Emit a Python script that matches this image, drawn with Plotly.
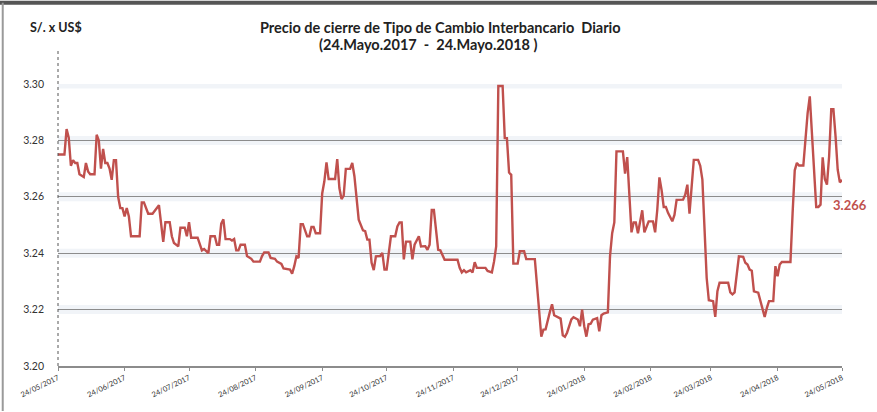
import plotly.graph_objects as go

fechas = [
    "2017-05-24", "2017-05-27", "2017-05-28", "2017-05-29", "2017-05-30", "2017-05-31",
    "2017-06-01", "2017-06-02", "2017-06-03", "2017-06-05", "2017-06-06", "2017-06-07",
    "2017-06-08", "2017-06-10", "2017-06-11", "2017-06-12", "2017-06-13", "2017-06-14",
    "2017-06-15", "2017-06-16", "2017-06-17", "2017-06-18", "2017-06-19", "2017-06-20",
    "2017-06-21", "2017-06-22", "2017-06-23", "2017-06-24", "2017-06-25", "2017-06-26",
    "2017-06-27", "2017-07-01", "2017-07-02", "2017-07-03", "2017-07-05", "2017-07-07",
    "2017-07-10", "2017-07-12", "2017-07-13", "2017-07-15", "2017-07-16", "2017-07-17",
    "2017-07-19", "2017-07-20", "2017-07-22", "2017-07-23", "2017-07-24", "2017-07-25",
    "2017-07-28", "2017-07-30", "2017-07-31", "2017-08-02", "2017-08-03", "2017-08-05",
    "2017-08-06", "2017-08-07", "2017-08-08", "2017-08-09", "2017-08-10", "2017-08-12",
    "2017-08-13", "2017-08-14", "2017-08-15", "2017-08-16", "2017-08-17", "2017-08-19",
    "2017-08-20", "2017-08-22", "2017-08-23", "2017-08-26", "2017-08-27", "2017-08-28",
    "2017-08-30", "2017-08-31", "2017-09-02", "2017-09-03", "2017-09-05", "2017-09-06",
    "2017-09-09", "2017-09-10", "2017-09-11", "2017-09-12", "2017-09-13", "2017-09-14",
    "2017-09-15", "2017-09-17", "2017-09-18", "2017-09-19", "2017-09-20", "2017-09-21",
    "2017-09-23", "2017-09-24", "2017-09-25", "2017-09-26", "2017-09-27", "2017-09-30",
    "2017-10-01", "2017-10-02", "2017-10-03", "2017-10-04", "2017-10-05", "2017-10-07",
    "2017-10-08", "2017-10-09", "2017-10-10", "2017-10-11", "2017-10-13", "2017-10-14",
    "2017-10-15", "2017-10-16", "2017-10-17", "2017-10-18", "2017-10-19", "2017-10-21",
    "2017-10-22", "2017-10-23", "2017-10-24", "2017-10-26", "2017-10-28", "2017-10-29",
    "2017-10-30", "2017-10-31", "2017-11-01", "2017-11-02", "2017-11-04", "2017-11-05",
    "2017-11-06", "2017-11-08", "2017-11-09", "2017-11-11", "2017-11-12", "2017-11-13",
    "2017-11-14", "2017-11-15", "2017-11-17", "2017-11-18", "2017-11-20", "2017-11-26",
    "2017-11-27", "2017-11-28", "2017-11-29", "2017-11-30", "2017-12-02", "2017-12-03",
    "2017-12-04", "2017-12-05", "2017-12-09", "2017-12-10", "2017-12-12", "2017-12-13",
    "2017-12-14", "2017-12-15", "2017-12-17", "2017-12-18", "2017-12-19", "2017-12-20",
    "2017-12-21", "2017-12-22", "2017-12-24", "2017-12-25", "2017-12-27", "2017-12-28",
    "2018-01-01", "2018-01-03", "2018-01-04", "2018-01-05", "2018-01-06", "2018-01-08",
    "2018-01-09", "2018-01-10", "2018-01-13", "2018-01-14", "2018-01-15", "2018-01-16",
    "2018-01-18", "2018-01-19", "2018-01-21", "2018-01-22", "2018-01-23", "2018-01-24",
    "2018-01-25", "2018-01-26", "2018-01-27", "2018-01-28", "2018-01-30", "2018-01-31",
    "2018-02-01", "2018-02-02", "2018-02-04", "2018-02-05", "2018-02-06", "2018-02-07",
    "2018-02-08", "2018-02-11", "2018-02-12", "2018-02-13", "2018-02-14", "2018-02-15",
    "2018-02-16", "2018-02-17", "2018-02-18", "2018-02-19", "2018-02-20", "2018-02-21",
    "2018-02-23", "2018-02-25", "2018-02-26", "2018-02-27", "2018-02-28", "2018-03-01",
    "2018-03-02", "2018-03-03", "2018-03-04", "2018-03-06", "2018-03-07", "2018-03-08",
    "2018-03-11", "2018-03-12", "2018-03-13", "2018-03-14", "2018-03-15", "2018-03-16",
    "2018-03-18", "2018-03-19", "2018-03-20", "2018-03-21", "2018-03-22", "2018-03-23",
    "2018-03-25", "2018-03-26", "2018-03-27", "2018-03-28", "2018-04-01", "2018-04-02",
    "2018-04-03", "2018-04-04", "2018-04-06", "2018-04-08", "2018-04-09", "2018-04-10",
    "2018-04-11", "2018-04-12", "2018-04-13", "2018-04-15", "2018-04-16", "2018-04-18",
    "2018-04-19", "2018-04-20", "2018-04-22", "2018-04-23", "2018-04-24", "2018-04-25",
    "2018-04-26", "2018-04-30", "2018-05-01", "2018-05-02", "2018-05-03", "2018-05-04",
    "2018-05-06", "2018-05-07", "2018-05-08", "2018-05-09", "2018-05-10", "2018-05-11",
    "2018-05-12", "2018-05-13", "2018-05-14", "2018-05-15", "2018-05-16", "2018-05-17",
    "2018-05-18", "2018-05-19", "2018-05-20", "2018-05-21", "2018-05-22", "2018-05-23",
    "2018-05-24",
]

tipo_cambio = [
    3.275, 3.275, 3.284, 3.281, 3.271, 3.273,
    3.272, 3.272, 3.268, 3.267, 3.272, 3.269,
    3.268, 3.268, 3.282, 3.280, 3.270, 3.277,
    3.272, 3.272, 3.270, 3.266, 3.273, 3.273,
    3.260, 3.256, 3.256, 3.253, 3.256, 3.253,
    3.246, 3.246, 3.258, 3.258, 3.254, 3.254,
    3.257, 3.244, 3.251, 3.251, 3.246, 3.2436,
    3.2424, 3.249, 3.249, 3.246, 3.251, 3.2455,
    3.2455, 3.241, 3.2415, 3.240, 3.246, 3.246,
    3.243, 3.243, 3.2505, 3.252, 3.245, 3.245,
    3.2445, 3.245, 3.241, 3.241, 3.243, 3.243,
    3.239, 3.238, 3.237, 3.237, 3.239, 3.2403,
    3.2403, 3.2383, 3.238, 3.237, 3.2362, 3.2346,
    3.2342, 3.2327, 3.2354, 3.2389, 3.2383, 3.2503,
    3.2503, 3.246, 3.246, 3.2493, 3.2493, 3.2471,
    3.2471, 3.2612, 3.2655, 3.2722, 3.2663, 3.2663,
    3.2734, 3.2631, 3.2592, 3.2604, 3.2699, 3.2699,
    3.272, 3.2673, 3.2596, 3.2519, 3.2481, 3.2478,
    3.2448, 3.2448, 3.2366, 3.234, 3.2389, 3.239,
    3.2401, 3.2342, 3.2342, 3.246, 3.246, 3.2495,
    3.2509, 3.2509, 3.2378, 3.2441, 3.2441, 3.2378,
    3.243, 3.246, 3.2424, 3.2425, 3.2412, 3.243,
    3.2553, 3.2553, 3.2412, 3.241, 3.2377, 3.2377,
    3.2348, 3.2332, 3.234, 3.2332, 3.234, 3.2332,
    3.2368, 3.2348, 3.2348, 3.2337, 3.2332, 3.237,
    3.2424, 3.2993, 3.2993, 3.2808, 3.2808, 3.2686,
    3.2678, 3.2363, 3.2363, 3.2407, 3.2407, 3.2379,
    3.2379, 3.2188, 3.2104, 3.2129, 3.213, 3.2192,
    3.2219, 3.218, 3.2168, 3.2109, 3.2104, 3.2118,
    3.2165, 3.2173, 3.2165, 3.2141, 3.220, 3.2141,
    3.2104, 3.2148, 3.215, 3.2164, 3.217, 3.2123,
    3.218, 3.2186, 3.219, 3.2389, 3.2471, 3.2509,
    3.2761, 3.2761, 3.2682, 3.2741, 3.2626, 3.2474,
    3.2509, 3.2509, 3.2471, 3.2513, 3.2552, 3.2474,
    3.2513, 3.2513, 3.2474, 3.2554, 3.2669, 3.2624,
    3.2564, 3.2564, 3.2543, 3.2513, 3.2536, 3.2589,
    3.259, 3.2607, 3.2643, 3.254, 3.264, 3.2731,
    3.2731, 3.271, 3.2661, 3.249, 3.2312, 3.2233,
    3.223, 3.2174, 3.2265, 3.2295, 3.2295, 3.2261,
    3.2254, 3.2261, 3.2389, 3.2387, 3.2366, 3.236,
    3.2342, 3.2338, 3.2265, 3.226, 3.2234, 3.2174,
    3.2205, 3.223, 3.223, 3.2354, 3.2318, 3.236,
    3.2369, 3.2369, 3.2542, 3.2694, 3.272, 3.2711,
    3.2711, 3.2802, 3.2897, 3.2956, 3.2814, 3.2673,
    3.2564, 3.2564, 3.2572, 3.274, 3.2663, 3.2643,
    3.2743, 3.2911, 3.2911, 3.2814, 3.2696, 3.2651,
    3.266,
]

tick_fechas = [
    "2017-05-24", "2017-06-24", "2017-07-24", "2017-08-24", "2017-09-24",
    "2017-10-24", "2017-11-24", "2017-12-24", "2018-01-24", "2018-02-24",
    "2018-03-24", "2018-04-24", "2018-05-24",
]
tick_textos = [
    "24/05/2017", "24/06/2017", "24/07/2017", "24/08/2017", "24/09/2017",
    "24/10/2017", "24/11/2017", "24/12/2017", "24/01/2018", "24/02/2018",
    "24/03/2018", "24/04/2018", "24/05/2018",
]
y_ticks = [3.20, 3.22, 3.24, 3.26, 3.28, 3.30]
y_textos = ["3.20", "3.22", "3.24", "3.26", "3.28", "3.30"]

ultimo_valor = "3.266"

ROJO = "#c0504d"
FONT = "Lato"

fig = go.Figure()

fig.add_trace(go.Scatter(
    x=fechas, y=tipo_cambio, mode="lines",
    line=dict(color=ROJO, width=2.4),
    hoverinfo="x+y", showlegend=False,
))

shapes = []
# soft glow under gridlines
for v in y_ticks[1:]:
    shapes.append(dict(type="line", xref="paper", yref="y", x0=0, x1=1, y0=v, y1=v,
                       line=dict(color="rgba(205,214,230,0.28)", width=9), layer="below"))
# dotted vertical axis
shapes.append(dict(type="line", xref="paper", yref="paper", x0=0, x1=0, y0=0, y1=1.12,
                   line=dict(color="#555555", width=1, dash="dot"), layer="above"))
# frame of the picture (top and left edges)
shapes.append(dict(type="line", xref="paper", yref="paper", x0=-0.075, x1=1.045, y0=1.288, y1=1.288,
                   line=dict(color="#555555", width=4), layer="above"))
shapes.append(dict(type="line", xref="paper", yref="paper", x0=-0.0705, x1=-0.0705, y0=-0.16, y1=1.288,
                   line=dict(color="#9a9a9a", width=2), layer="above"))

fig.update_layout(
    width=877, height=412,
    margin=dict(l=58, r=35, t=84, b=46, autoexpand=False),
    paper_bgcolor="white", plot_bgcolor="white",
    font=dict(family=FONT, color="#222222"),
    shapes=shapes,
    xaxis=dict(
        type="date", range=["2017-05-24", "2018-05-24"],
        tickvals=tick_fechas, ticktext=tick_textos, tickangle=-26,
        tickfont=dict(size=7.5, color="#333333", family=FONT),
        showgrid=False, showline=True, linecolor="#8c8c8c", linewidth=1.5,
        ticks="outside", ticklen=3, tickcolor="#8c8c8c", zeroline=False,
        automargin=False,
    ),
    yaxis=dict(
        range=[3.20, 3.30], tickvals=y_ticks, ticktext=y_textos,
        tickfont=dict(size=10.5, color="#333333", family=FONT),
        showgrid=True, gridcolor="#8c8c8c", gridwidth=1.3,
        showline=False, zeroline=False, ticks="", ticklabelstandoff=13,
        automargin=False,
    ),
    annotations=[
        dict(text="<b>Precio de cierre de Tipo de Cambio Interbancario  Diario</b>",
             xref="paper", yref="paper", x=0.488, y=1.0, yshift=57,
             xanchor="center", yanchor="middle", showarrow=False,
             font=dict(size=14.5, color="#222222", family=FONT)),
        dict(text="<b>(24.Mayo.2017  -  24.Mayo.2018 )</b>",
             xref="paper", yref="paper", x=0.472, y=1.0, yshift=40,
             xanchor="center", yanchor="middle", showarrow=False,
             font=dict(size=14.5, color="#222222", family=FONT)),
        dict(text="<b>S/. x US$</b>", xref="paper", yref="paper",
             x=0, xshift=-30, y=1.0, yshift=57, xanchor="left", yanchor="middle",
             showarrow=False, font=dict(size=12.5, color="#222222", family=FONT)),
        dict(text="<b>" + ultimo_valor + "</b>", xref="x", yref="y",
             x=fechas[-1], y=float(ultimo_valor), xanchor="center", yanchor="middle",
             xshift=8, yshift=-25, showarrow=False,
             font=dict(size=13, color=ROJO, family=FONT)),
    ],
)

fig.write_html("out.html", config={"displayModeBar": False},
               post_script="document.body.style.margin='0';")
